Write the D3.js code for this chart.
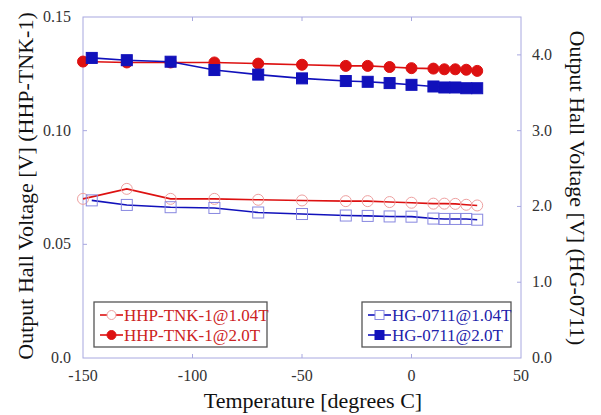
<!DOCTYPE html>
<html>
<head>
<meta charset="utf-8">
<script src="https://cdn.jsdelivr.net/npm/d3@7"></script>
<style>
body { margin: 0; background: #fff; }
text { font-family: "Liberation Serif", "Times New Roman", serif; }
</style>
</head>
<body>
<svg width="601" height="415"></svg>
<script>
var temps = [-150, -130, -110, -90, -70, -50, -30, -20, -10, 0, 10, 15, 20, 25, 30];
var tempsHG = [-146, -130, -110, -90, -70, -50, -30, -20, -10, 0, 10, 15, 20, 25, 30];

var hhp104 = [0.0700, 0.0744, 0.0700, 0.0700, 0.0696, 0.0693, 0.0690, 0.0690, 0.0686, 0.0683, 0.0679, 0.0679, 0.0678, 0.0674, 0.0671];
var hhp20 = [0.1304, 0.1300, 0.1300, 0.1300, 0.1295, 0.1290, 0.1285, 0.1285, 0.1280, 0.1275, 0.1273, 0.1270, 0.1270, 0.1268, 0.1263];
var hg104 = [2.08, 2.02, 1.99, 1.98, 1.92, 1.90, 1.88, 1.875, 1.868, 1.865, 1.84, 1.835, 1.835, 1.835, 1.825];
var hg20 = [3.96, 3.93, 3.91, 3.80, 3.74, 3.69, 3.655, 3.645, 3.628, 3.605, 3.583, 3.57, 3.57, 3.56, 3.56];

var xTicks = [-150, -100, -50, 0, 50];
var leftTicks = [0, 0.05, 0.10, 0.15];
var rightTicks = [0, 1, 2, 3, 4];

var svg = d3.select("svg");
var plotL = 83, plotR = 521, plotT = 17, plotB = 358;

var x = d3.scaleLinear().domain([-150, 50]).range([plotL, plotR]);
var yL = d3.scaleLinear().domain([0, 0.15]).range([plotB, plotT]);
var yR = d3.scaleLinear().domain([0, 4.5]).range([plotB, plotT]);

var frame = "#a8a8e0";
var red = "#dd1111", pink = "#eea0a0", blue = "#1111bb", lblue = "#8888e0";

// frame
svg.append("rect")
	.attr("x", plotL).attr("y", plotT)
	.attr("width", plotR - plotL).attr("height", plotB - plotT)
	.attr("fill", "none").attr("stroke", frame).attr("stroke-width", 1);

// ticks (inside)
xTicks.slice(1, -1).forEach(t => {
	svg.append("line").attr("x1", x(t)).attr("x2", x(t)).attr("y1", plotB).attr("y2", plotB - 4).attr("stroke", frame);
	svg.append("line").attr("x1", x(t)).attr("x2", x(t)).attr("y1", plotT).attr("y2", plotT + 4).attr("stroke", frame);
});
leftTicks.slice(1, -1).forEach(t => {
	svg.append("line").attr("x1", plotL).attr("x2", plotL + 4).attr("y1", yL(t)).attr("y2", yL(t)).attr("stroke", frame);
});
rightTicks.slice(1).forEach(t => {
	svg.append("line").attr("x1", plotR).attr("x2", plotR - 4).attr("y1", yR(t)).attr("y2", yR(t)).attr("stroke", frame);
});

// tick labels
var tickColor = "#333";
svg.selectAll(".xt").data(xTicks).enter().append("text")
	.attr("x", d => x(d)).attr("y", 381)
	.attr("text-anchor", "middle").attr("font-size", 16).attr("fill", tickColor)
	.text(d => d);
svg.selectAll(".yl").data(leftTicks).enter().append("text")
	.attr("x", 71).attr("y", d => yL(d) + 5)
	.attr("text-anchor", "end").attr("font-size", 16).attr("fill", tickColor)
	.text(d => d3.format(d == 0 ? ".1f" : ".2f")(d));
svg.selectAll(".yr").data(rightTicks).enter().append("text")
	.attr("x", 532).attr("y", d => yR(d) + 5)
	.attr("text-anchor", "start").attr("font-size", 16).attr("fill", tickColor)
	.text(d => d3.format(".1f")(d));

// axis titles
svg.append("text").attr("x", 313).attr("y", 408)
	.attr("text-anchor", "middle").attr("font-size", 22).attr("fill", "#111")
	.text("Temperature [degrees C]");
svg.append("text").attr("transform", "translate(33," + 186 + ") rotate(-90)")
	.attr("text-anchor", "middle").attr("font-size", 22).attr("fill", "#111")
	.text("Output Hall Voltage [V] (HHP-TNK-1)");
svg.append("text").attr("transform", "translate(570," + 188 + ") rotate(90)")
	.attr("text-anchor", "middle").attr("font-size", 22).attr("fill", "#111")
	.text("Output Hall Voltage [V] (HG-0711)");

// series
var series = [
	{xs: temps, ys: hhp104, scale: yL, line: red, stroke: pink, fill: "none", shape: "circle"},
	{xs: tempsHG, ys: hg104, scale: yR, line: blue, stroke: lblue, fill: "none", shape: "square"},
	{xs: temps, ys: hhp20, scale: yL, line: red, stroke: red, fill: red, shape: "circle"},
	{xs: tempsHG, ys: hg20, scale: yR, line: blue, stroke: blue, fill: blue, shape: "square"}
];

series.forEach(s => {
	var pts = s.xs.map((t, i) => [t, s.ys[i]]);
	var line = d3.line().x(d => x(d[0])).y(d => s.scale(d[1]));
	svg.append("path").attr("d", line(pts))
		.attr("fill", "none").attr("stroke", s.line).attr("stroke-width", 1.6);
	drawMarkers(pts, s);
});

function drawMarkers(pts, s) {
	var g = svg.append("g");
	if (s.shape == "circle") {
		g.selectAll("circle").data(pts).enter().append("circle")
			.attr("cx", d => x(d[0])).attr("cy", d => s.scale(d[1]))
			.attr("r", 5.5).attr("fill", s.fill).attr("stroke", s.stroke).attr("stroke-width", 1);
	} else {
		g.selectAll("rect").data(pts).enter().append("rect")
			.attr("x", d => x(d[0]) - 5.5).attr("y", d => s.scale(d[1]) - 5.5)
			.attr("width", 11).attr("height", 11)
			.attr("fill", s.fill).attr("stroke", s.stroke).attr("stroke-width", 1);
	}
}

// legends
var legends = [
	{x: 94, y: 302, w: 173, items: [
		{label: "HHP-TNK-1@1.04T", s: series[0]},
		{label: "HHP-TNK-1@2.0T", s: series[2]}], color: "#cc2222"},
	{x: 362, y: 302, w: 149, items: [
		{label: "HG-0711@1.04T", s: series[1]},
		{label: "HG-0711@2.0T", s: series[3]}], color: "#2222aa"}
];

legends.forEach(L => {
	svg.append("rect").attr("x", L.x).attr("y", L.y).attr("width", L.w).attr("height", 45)
		.attr("fill", "#fff").attr("stroke", "#555").attr("stroke-width", 1.3);
	L.items.forEach((it, i) => {
		var cy = L.y + 13 + i * 20;
		svg.append("line").attr("x1", L.x + 6).attr("x2", L.x + 29).attr("y1", cy).attr("y2", cy)
			.attr("stroke", it.s.line).attr("stroke-width", 1.6);
		var cx = L.x + 17.5;
		if (it.s.shape == "circle") {
			svg.append("circle").attr("cx", cx).attr("cy", cy).attr("r", 4.5)
				.attr("fill", it.s.fill == "none" ? "#fff" : it.s.fill).attr("stroke", it.s.stroke);
		} else {
			svg.append("rect").attr("x", cx - 4.5).attr("y", cy - 4.5).attr("width", 9).attr("height", 9)
				.attr("fill", it.s.fill == "none" ? "#fff" : it.s.fill).attr("stroke", it.s.stroke);
		}
		svg.append("text").attr("x", L.x + 30).attr("y", cy + 6)
			.attr("font-size", 17).attr("fill", L.color).text(it.label);
	});
});
</script>
</body>
</html>
